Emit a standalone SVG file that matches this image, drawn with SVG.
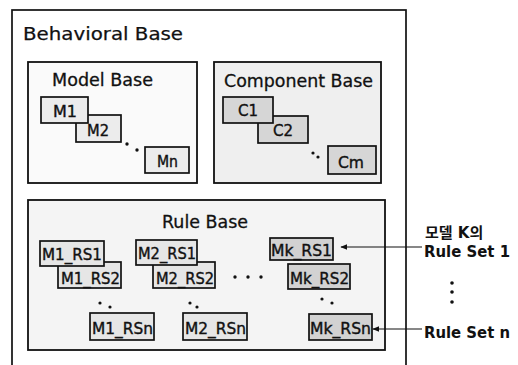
<svg xmlns="http://www.w3.org/2000/svg" width="518" height="365" viewBox="0 0 518 365">
  <style>
    .frame { fill: #ffffff; stroke: #111; stroke-width: 1.7; }
    .base { stroke: #111; stroke-width: 1.8; }
    .item { stroke: #111; stroke-width: 1.7; }
    .t { font-family: "DejaVu Sans", Verdana, sans-serif; fill: #111; }
    .title { font-size: 18px; stroke: #111; stroke-width: 0.25; }
    .sub { font-size: 17px; stroke: #111; stroke-width: 0.3; }
    .lbl { font-size: 16px; stroke: #111; stroke-width: 0.4; }
    .note { font-family: "DejaVu Sans", "Noto Sans CJK KR", sans-serif; font-weight: bold; font-size: 15px; fill: #111; }
    .dot { fill: #111; }
    .link { stroke: #111; stroke-width: 1.2; fill: none; marker-end: url(#head); }
  </style>
  <defs>
    <marker id="head" viewBox="0 0 10 10" refX="9" refY="5" markerWidth="7" markerHeight="7" markerUnits="userSpaceOnUse" orient="auto">
      <path d="M0,1 L10,5 L0,9 z" fill="#111"/>
    </marker>
  </defs>

  <rect width="518" height="365" fill="#ffffff"/>

  <!-- outer container (bottom edge runs off the page) -->
  <g id="behavioral-base">
    <rect class="frame" x="12" y="10" width="394" height="370"/>
    <text class="t title" x="23" y="40" textLength="160" lengthAdjust="spacingAndGlyphs">Behavioral Base</text>
  </g>

  <!-- Model Base -->
  <g id="model-base">
    <rect class="base" x="28" y="62" width="169" height="121" fill="#fafafa"/>
    <text class="t sub" x="52" y="86" textLength="101" lengthAdjust="spacingAndGlyphs">Model Base</text>
  </g>
  <g id="m2">
    <rect class="item" x="76" y="115" width="45" height="27" fill="#ececec"/>
    <text class="t lbl" x="87" y="136" textLength="22" lengthAdjust="spacingAndGlyphs">M2</text>
  </g>
  <g id="m1">
    <rect class="item" x="41" y="97" width="47" height="26" fill="#ececec"/>
    <text class="t lbl" x="53" y="117" textLength="24" lengthAdjust="spacingAndGlyphs">M1</text>
  </g>
  <g id="mn">
    <rect class="item" x="145" y="147" width="44" height="26" fill="#ececec"/>
    <text class="t lbl" x="157" y="167" textLength="21" lengthAdjust="spacingAndGlyphs">Mn</text>
  </g>
  <circle class="dot" cx="127" cy="144" r="1.7"/>
  <circle class="dot" cx="137" cy="150" r="1.7"/>

  <!-- Component Base -->
  <g id="component-base">
    <rect class="base" x="214" y="62" width="167" height="121" fill="#efefef"/>
    <text class="t sub" x="224" y="87" textLength="149" lengthAdjust="spacingAndGlyphs">Component Base</text>
  </g>
  <g id="c2">
    <rect class="item" x="258" y="116" width="50" height="27" fill="#d6d6d6"/>
    <text class="t lbl" x="273" y="136" textLength="20" lengthAdjust="spacingAndGlyphs">C2</text>
  </g>
  <g id="c1">
    <rect class="item" x="223" y="97" width="50" height="26" fill="#d6d6d6"/>
    <text class="t lbl" x="238" y="116" textLength="20" lengthAdjust="spacingAndGlyphs">C1</text>
  </g>
  <g id="cm">
    <rect class="item" x="328" y="146" width="48" height="28" fill="#d6d6d6"/>
    <text class="t lbl" x="338" y="168" textLength="26" lengthAdjust="spacingAndGlyphs">Cm</text>
  </g>
  <circle class="dot" cx="313" cy="153" r="1.6"/>
  <circle class="dot" cx="318" cy="157" r="1.6"/>

  <!-- Rule Base -->
  <g id="rule-base">
    <rect class="base" x="28" y="200" width="357" height="150" fill="#f4f4f4"/>
    <text class="t sub" x="162" y="228" textLength="86" lengthAdjust="spacingAndGlyphs">Rule Base</text>
  </g>
  <g id="m1-rs2">
    <rect class="item" x="58" y="262" width="63" height="26" fill="#e6e6e6"/>
    <text class="t lbl" x="61" y="284" textLength="59" lengthAdjust="spacingAndGlyphs">M1_RS2</text>
  </g>
  <g id="m1-rs1">
    <rect class="item" x="40" y="241" width="64" height="25" fill="#e6e6e6"/>
    <text class="t lbl" x="42" y="260" textLength="60" lengthAdjust="spacingAndGlyphs">M1_RS1</text>
  </g>
  <g id="m2-rs2">
    <rect class="item" x="153" y="262" width="62" height="26" fill="#e6e6e6"/>
    <text class="t lbl" x="156" y="284" textLength="58" lengthAdjust="spacingAndGlyphs">M2_RS2</text>
  </g>
  <g id="m2-rs1">
    <rect class="item" x="136" y="240" width="61" height="25" fill="#e6e6e6"/>
    <text class="t lbl" x="138" y="259" textLength="58" lengthAdjust="spacingAndGlyphs">M2_RS1</text>
  </g>
  <g id="m1-rsn">
    <rect class="item" x="90" y="313" width="64" height="27" fill="#e6e6e6"/>
    <text class="t lbl" x="92" y="334" textLength="61" lengthAdjust="spacingAndGlyphs">M1_RSn</text>
  </g>
  <g id="m2-rsn">
    <rect class="item" x="183" y="313" width="64" height="27" fill="#e6e6e6"/>
    <text class="t lbl" x="185" y="334" textLength="61" lengthAdjust="spacingAndGlyphs">M2_RSn</text>
  </g>
  <g id="mk-rs2">
    <rect class="item" x="288" y="264" width="62" height="25" fill="#d2d2d2"/>
    <text class="t lbl" x="290" y="284" textLength="59" lengthAdjust="spacingAndGlyphs">Mk_RS2</text>
  </g>
  <g id="mk-rs1">
    <rect class="item" x="270" y="238" width="63" height="22" fill="#d2d2d2"/>
    <text class="t lbl" x="271" y="256" textLength="61" lengthAdjust="spacingAndGlyphs">Mk_RS1</text>
  </g>
  <g id="mk-rsn">
    <rect class="item" x="309" y="314" width="63" height="26" fill="#d2d2d2"/>
    <text class="t lbl" x="310" y="334" textLength="61" lengthAdjust="spacingAndGlyphs">Mk_RSn</text>
  </g>

  <!-- ellipsis dots inside the rule base -->
  <circle class="dot" cx="100" cy="303" r="1.6"/>
  <circle class="dot" cx="110" cy="307" r="1.6"/>
  <circle class="dot" cx="190" cy="303" r="1.6"/>
  <circle class="dot" cx="197" cy="307" r="1.6"/>
  <circle class="dot" cx="235" cy="277" r="1.7"/>
  <circle class="dot" cx="248" cy="277" r="1.7"/>
  <circle class="dot" cx="261" cy="277" r="1.7"/>
  <circle class="dot" cx="322" cy="299" r="1.6"/>
  <circle class="dot" cx="332" cy="303" r="1.6"/>

  <!-- annotation arrows -->
  <g id="connectors">
    <line class="link" x1="422" y1="247" x2="341" y2="247"/>
    <line class="link" x1="422" y1="329" x2="373" y2="329"/>
  </g>

  <!-- side notes -->
  <g id="note-rule-set-1">
    <text class="note" x="425" y="238">모델 K의</text>
    <text class="note" x="424" y="257" textLength="86" lengthAdjust="spacingAndGlyphs">Rule Set 1</text>
  </g>
  <circle class="dot" cx="452" cy="283" r="1.8"/>
  <circle class="dot" cx="452" cy="292" r="1.8"/>
  <circle class="dot" cx="452" cy="302" r="1.8"/>
  <g id="note-rule-set-n">
    <text class="note" x="424" y="338" textLength="86" lengthAdjust="spacingAndGlyphs">Rule Set n</text>
  </g>
</svg>
